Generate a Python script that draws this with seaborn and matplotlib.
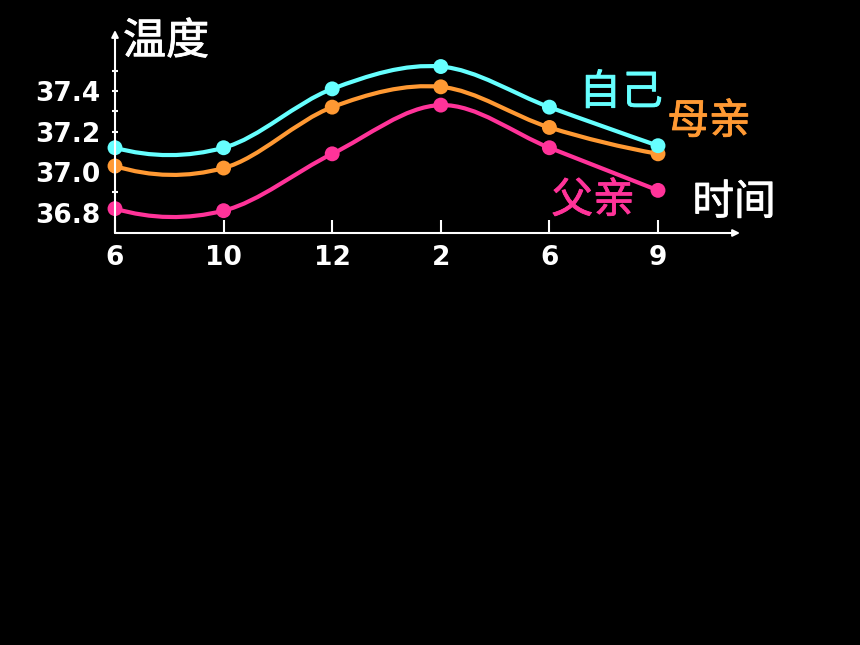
import numpy as np
import pandas as pd
import matplotlib
matplotlib.use("Agg")
import matplotlib.pyplot as plt
import matplotlib.patheffects as pe
from matplotlib.path import Path
from matplotlib.patches import PathPatch
import seaborn as sns

# 时间 (x轴) 和三个人的体温
times = ["6", "10", "12", "2", "6", "9"]
self_temp = [37.12, 37.12, 37.41, 37.52, 37.32, 37.13]
mother_temp = [37.03, 37.02, 37.32, 37.42, 37.22, 37.09]
father_temp = [36.82, 36.81, 37.09, 37.33, 37.12, 36.91]

names = ["父亲", "母亲", "自己"]
colors = {"自己": "#66FFFF", "母亲": "#FF9933", "父亲": "#FF3399"}
series = {"父亲": father_temp, "母亲": mother_temp, "自己": self_temp}

ytick_values = [36.8, 36.9, 37.0, 37.1, 37.2, 37.3, 37.4, 37.5]
ytick_labels = ["36.8", "", "37.0", "", "37.2", "", "37.4", ""]

sns.set_theme(style="dark", rc={"axes.facecolor": "black", "figure.facecolor": "black"})
plt.rcParams["font.family"] = ["DejaVu Sans"]
cjk = ["Noto Sans CJK SC", "DejaVu Sans"]


def smooth_path(ys):
    # bezier curve through the points (like the smoothed line in PowerPoint)
    ys = np.asarray(ys, dtype=float)
    xs = np.arange(len(ys))
    m = np.zeros(len(ys))
    m[1:-1] = (ys[2:] - ys[:-2]) / 2
    m[0] = 2 * (ys[1] - ys[0]) - m[1]
    m[-1] = 2 * (ys[-1] - ys[-2]) - m[-2]
    verts = [(xs[0], ys[0])]
    codes = [Path.MOVETO]
    for i in range(len(ys) - 1):
        verts += [(xs[i] + 1 / 3, ys[i] + m[i] / 3),
                  (xs[i + 1] - 1 / 3, ys[i + 1] - m[i + 1] / 3),
                  (xs[i + 1], ys[i + 1])]
        codes += [Path.CURVE4] * 3
    return Path(verts, codes)


fig = plt.figure(figsize=(8.6, 6.45), dpi=100, facecolor="black")
ax = fig.add_axes([115 / 860, (645 - 233) / 645, 625 / 860, 203 / 645])
ax.set_facecolor("black")
xmax, ymin, ymax = 5.755, 36.70, 37.70

rows = []
for name in names:
    ax.add_patch(PathPatch(smooth_path(series[name]), facecolor="none",
                           edgecolor=colors[name], lw=3, zorder=2, capstyle="round"))
    for i, v in enumerate(series[name]):
        rows.append({"who": name, "idx": i, "temp": v})
df = pd.DataFrame(rows)

sns.scatterplot(data=df, x="idx", y="temp", hue="who", palette=colors, s=115,
                linewidth=0, legend=False, ax=ax, zorder=3, clip_on=False)

ax.set_xlim(0, xmax)
ax.set_ylim(ymin, ymax)
ax.set_xlabel("")
ax.set_ylabel("")
ax.grid(False)
for sp in ax.spines.values():
    sp.set_visible(False)

ax.set_xticks(range(len(times)), times)
ax.set_yticks(ytick_values, ytick_labels)
ax.tick_params(axis="x", direction="in", length=9.5, width=1.5, color="white",
               labelcolor="white", pad=8.5, labelsize=19, bottom=True)
ax.tick_params(axis="y", direction="inout", length=5, width=1.5, color="white",
               labelcolor="white", pad=8, labelsize=19, left=True)
for lbl in ax.get_xticklabels() + ax.get_yticklabels():
    lbl.set_fontweight("bold")

# axes with arrows
arrow = dict(arrowstyle="-|>", color="white", lw=1.5, mutation_scale=10, shrinkA=0, shrinkB=0)
ax.annotate("", xy=(xmax, ymin), xytext=(0, ymin), arrowprops=arrow, annotation_clip=False)
ax.annotate("", xy=(0, ymax), xytext=(0, ymin), arrowprops=arrow, annotation_clip=False)


def label(x, y, s, color, size=30):
    t = fig.text(x / 860, 1 - y / 645, s, ha="center", va="center", family=cjk,
                 fontsize=size, color=color)
    t.set_path_effects([pe.withStroke(linewidth=0.6, foreground=color)])


label(166, 42, "温度", "white", 31)
label(734, 203, "时间", "white")
label(621, 93, "自己", colors["自己"])
label(709, 122, "母亲", colors["母亲"])
label(593, 201, "父亲", colors["父亲"])

fig.savefig("out.png", dpi=100, facecolor="black")
